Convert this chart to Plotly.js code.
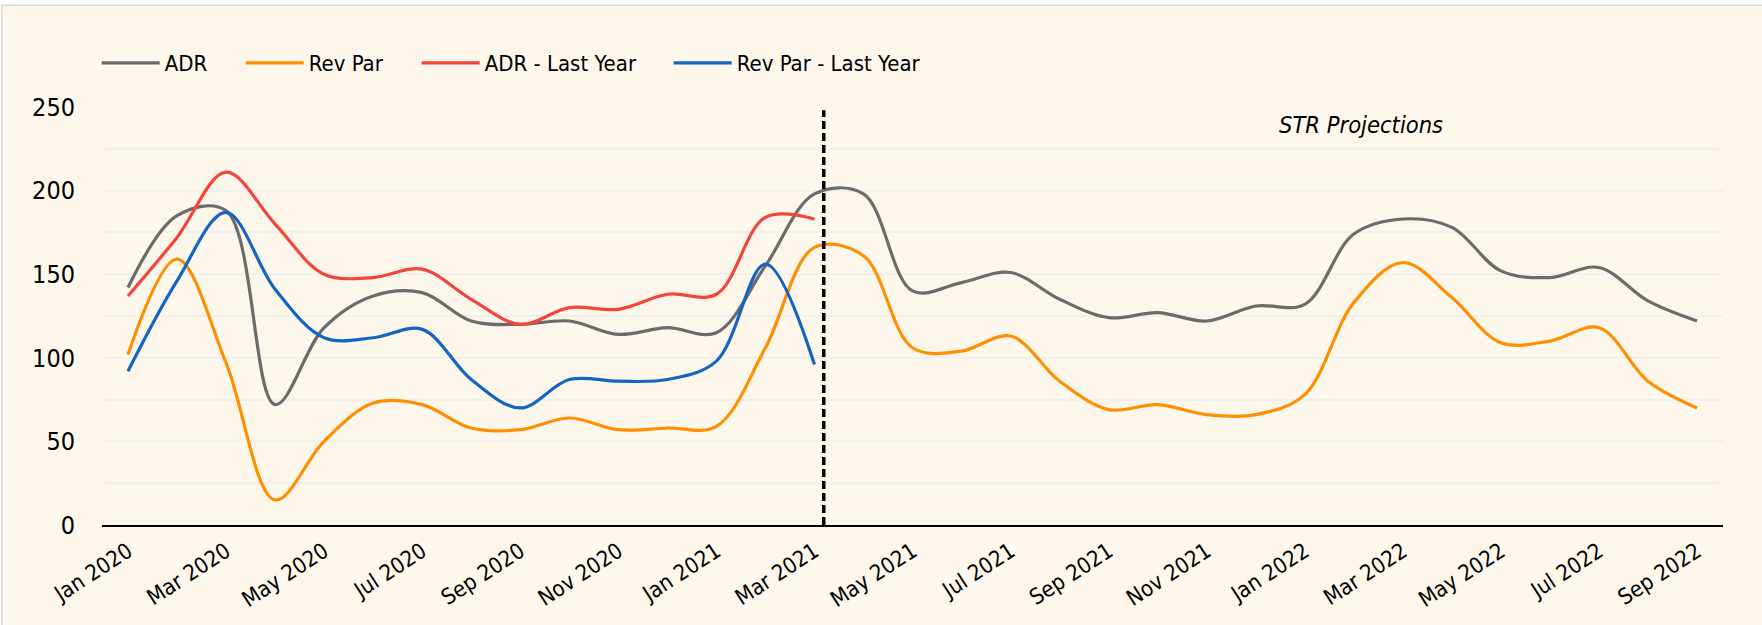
<!DOCTYPE html>
<html>
<head>
<meta charset="utf-8">
<script src="https://cdn.plot.ly/plotly-3.0.1.min.js"></script>
<style>html,body{margin:0;padding:0;background:#ffffff;}#chart{width:1762px;height:625px;}</style>
</head>
<body>
<div id="chart"></div>
<script>
const months = ["Jan 2020","Feb 2020","Mar 2020","Apr 2020","May 2020","Jun 2020","Jul 2020","Aug 2020","Sep 2020","Oct 2020","Nov 2020","Dec 2020",
  "Jan 2021","Feb 2021","Mar 2021","Apr 2021","May 2021","Jun 2021","Jul 2021","Aug 2021","Sep 2021","Oct 2021","Nov 2021","Dec 2021",
  "Jan 2022","Feb 2022","Mar 2022","Apr 2022","May 2022","Jun 2022","Jul 2022","Aug 2022","Sep 2022"];
const adr = [142,185,188,72,118,137,139,122,120,122,114,118,115,155,198,198,140,145,151,135,124,127,122,131,132,174,183,178,152,148,154,134,122];
const revPar = [102,159,97,15,50,73,72,58,57,64,57,58,59,106,166,161,106,104,113,86,69,72,66,66,78,133,157,136,109,110,118,86,70];
const adrLastYear = [137,172,211,180,150,148,153,135,120,130,129,138,138,184,183];
const revParLastYear = [92,146,187,141,112,112,117,87,70,87,86,87,98,156,96];
const seriesNames = ["ADR", "Rev Par", "ADR - Last Year", "Rev Par - Last Year"];
const projectionStart = 14.19; // between Mar 2021 and Apr 2021
const projectionLabel = "STR Projections";

const FONT = "'Liberation Sans Narrow', 'DejaVu Sans Condensed', 'Roboto Condensed', Roboto, sans-serif";

const L = 102.3, R = 1723.3, T = 106.7, B = 525;
const W = R - L, H = B - T;
const px = v => (v - L) / W, py = v => (B - v) / H;

const colors = ['#6b6b6b', '#FF8F00', '#F2453B', '#1565C0'];
const legendIds = ['legend', 'legend2', 'legend3', 'legend4'];
const legendX = [97, 241, 417, 669];

const series = [adr, revPar, adrLastYear, revParLastYear];
const data = series.map((y, k) => ({
  type:'scatter', mode:'lines', name:seriesNames[k], x:months.slice(0, y.length), y:y,
  line:{color:colors[k], width:3.2, shape:'spline', smoothing:1},
  legend:legendIds[k]
}));

const layout = {
  width:1762, height:625,
  margin:{l:L, r:1762-R, t:T, b:625-B, pad:0},
  paper_bgcolor:'#ffffff',
  plot_bgcolor:'rgba(0,0,0,0)',
  font:{family:FONT, size:22, color:'#000'},
  showlegend:true,
  xaxis:{type:'category', range:[-0.53, 32.53], showgrid:false, zeroline:false,
    showline:true, linecolor:'#000', linewidth:2,
    tickmode:'array', tickvals:months.filter((m,i)=>i%2===0), ticktext:months.filter((m,i)=>i%2===0),
    tickangle:-33, ticks:'outside', ticklen:3, tickcolor:'rgba(0,0,0,0)',
    tickfont:{family:FONT, size:22, color:'#000'}, fixedrange:true},
  yaxis:{range:[0,250], dtick:50, tick0:0, showgrid:true, gridcolor:'#F0F0EE', gridwidth:2,
    minor:{dtick:25, showgrid:true, gridcolor:'#F0F0EE', gridwidth:2},
    zeroline:false, showline:false, ticks:'outside', ticklen:21, tickcolor:'rgba(0,0,0,0)',
    tickfont:{family:FONT, size:25, color:'#000'}, fixedrange:true},
  shapes:[
    {type:'rect', xref:'paper', yref:'paper', x0:px(2), x1:px(1800), y0:py(5), y1:py(660),
      fillcolor:'#FDF7EB', line:{color:'#D9D9D9', width:1.5}, layer:'below'},
    {type:'line', xref:'x', yref:'y', x0:projectionStart, x1:projectionStart, y0:0, y1:248,
      line:{color:'#000', width:3.5, dash:'8px,4px'}}
  ],
  annotations:[
    {xref:'x', yref:'y', x:25.14, y:239.4, text:projectionLabel, showarrow:false,
      xanchor:'center', yanchor:'middle',
      font:{family:FONT, size:23.5, color:'#000', style:'italic'}}
  ]
};
legendIds.forEach((id, k) => {
  layout[id] = {orientation:'h', x:px(legendX[k]), y:py(62.7), xanchor:'left', yanchor:'middle',
    font:{family:FONT, size:22, color:'#000'}, itemwidth:58, bgcolor:'rgba(0,0,0,0)'};
});
Plotly.newPlot('chart', data, layout, {displayModeBar:false, staticPlot:true});
</script>
</body>
</html>
